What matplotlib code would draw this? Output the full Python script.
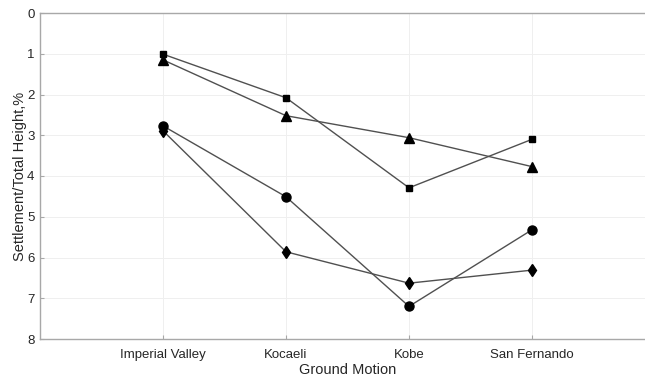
import numpy as np
import matplotlib.pyplot as plt

plt.rcParams['font.family'] = ['Liberation Sans', 'DejaVu Sans']

motions = ['Imperial Valley', 'Kocaeli', 'Kobe', 'San Fernando']

# settlement / total height (%) for each case
sq_vals = [1.01, 2.08, 4.29, 3.10]
tri_vals = [1.15, 2.52, 3.06, 3.77]
circ_vals = [2.77, 4.51, 7.20, 5.32]
dia_vals = [2.89, 5.86, 6.63, 6.31]

x = np.arange(1, len(motions) + 1)

fig = plt.figure(figsize=(6.45, 3.79), dpi=100)
ax = fig.add_axes([40 / 645, 1 - 339 / 379, 615 / 645, 326 / 379])

line_col = '#505050'
ax.plot(x, sq_vals, color=line_col, lw=1.0, marker='s', ms=5, mfc='k', mec='k')
ax.plot(x, tri_vals, color=line_col, lw=1.0, marker='^', ms=6.5, mfc='k', mec='k')
ax.plot(x, circ_vals, color=line_col, lw=1.0, marker='o', ms=6.5, mfc='k', mec='k')
ax.plot(x, dia_vals, color=line_col, lw=1.0, marker='d', ms=6.5, mfc='k', mec='k')

ax.set_xlim(0, 5)
ax.set_ylim(8, 0)
ax.set_xticks(x)
ax.set_xticklabels(motions)
ax.set_yticks(range(0, 9))
ax.grid(True, color='#efefef', lw=0.7)
ax.set_axisbelow(True)

for s in ax.spines.values():
    s.set_color('#a8a8a8')
    s.set_linewidth(1.0)
ax.tick_params(colors='#a8a8a8', labelcolor='#262626', labelsize=9.5, length=3,
               direction='in', top=False, right=False)
ax.tick_params(axis='x', pad=7)
ax.tick_params(axis='y', pad=4)

ax.set_xlabel('Ground Motion', fontsize=10.5, color='#262626', labelpad=2)
ax.set_ylabel('Settlement/Total Height,%', fontsize=10.5, color='#262626', labelpad=0)

fig.savefig('out.png', dpi=100)
